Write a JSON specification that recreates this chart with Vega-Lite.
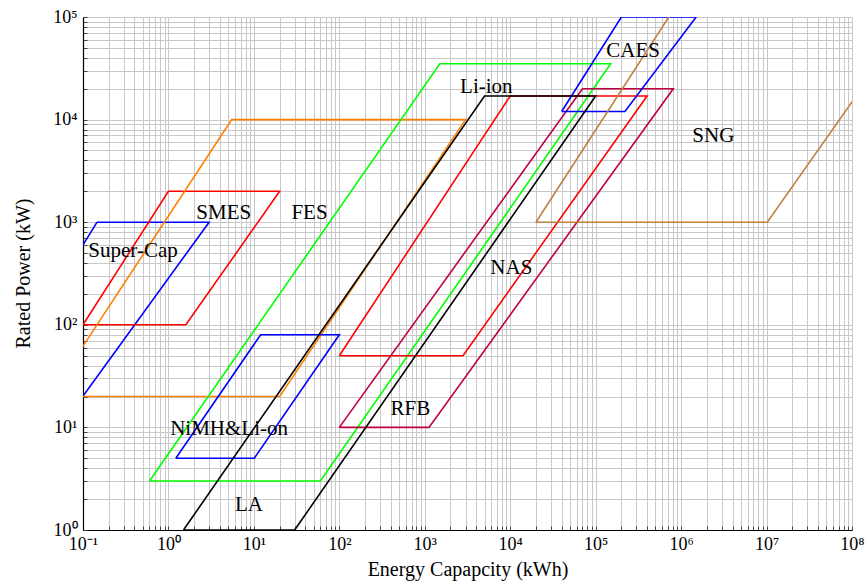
{
  "$schema": "https://vega.github.io/schema/vega-lite/v6.json",
  "width": 769,
  "height": 513,
  "autosize": {"type": "none"},
  "padding": {"left": 83, "top": 17, "right": 15, "bottom": 53},
  "background": "white",
  "config": {
    "font": "Liberation Serif",
    "view": {"stroke": null},
    "axis": {
      "grid": true,
      "gridColor": "#c8c8c8",
      "gridWidth": 1,
      "domainColor": "black",
      "domainWidth": 1.2,
      "tickColor": "#444444",
      "tickSize": -4,
      "labelFont": "Liberation Serif",
      "labelFontSize": 18,
      "labelColor": "black",
      "labelOverlap": false,
      "labelBound": false,
      "labelFlush": false,
      "titleFont": "Liberation Serif",
      "titleFontSize": 20,
      "titleFontWeight": "normal",
      "titleColor": "black"
    }
  },
  "datasets": {
    "shapes": [
      {"shape": "supercap", "i": 0, "e": 0.146, "p": 1000},
      {"shape": "supercap", "i": 1, "e": 2.99, "p": 1000},
      {"shape": "supercap", "i": 2, "e": 0.0542, "p": 10},
      {"shape": "supercap", "i": 3, "e": 0.00479, "p": 10},
      {"shape": "supercap", "i": 4, "e": 0.146, "p": 1000},
      {"shape": "smes", "i": 0, "e": 0.1, "p": 100},
      {"shape": "smes", "i": 1, "e": 1.6, "p": 100},
      {"shape": "smes", "i": 2, "e": 20, "p": 2000},
      {"shape": "smes", "i": 3, "e": 1, "p": 2000},
      {"shape": "smes", "i": 4, "e": 0.1, "p": 100},
      {"shape": "orange", "i": 0, "e": 0.041, "p": 20},
      {"shape": "orange", "i": 1, "e": 20, "p": 20},
      {"shape": "orange", "i": 2, "e": 3000, "p": 10000},
      {"shape": "orange", "i": 3, "e": 5.5, "p": 10000},
      {"shape": "orange", "i": 4, "e": 0.041, "p": 20},
      {"shape": "fes", "i": 0, "e": 0.6, "p": 3},
      {"shape": "fes", "i": 1, "e": 60, "p": 3},
      {"shape": "fes", "i": 2, "e": 150000, "p": 35000},
      {"shape": "fes", "i": 3, "e": 1500, "p": 35000},
      {"shape": "fes", "i": 4, "e": 0.6, "p": 3},
      {"shape": "nimh", "i": 0, "e": 1.22, "p": 5},
      {"shape": "nimh", "i": 1, "e": 10.1, "p": 5},
      {"shape": "nimh", "i": 2, "e": 100, "p": 80},
      {"shape": "nimh", "i": 3, "e": 12, "p": 80},
      {"shape": "nimh", "i": 4, "e": 1.22, "p": 5},
      {"shape": "nas", "i": 0, "e": 100, "p": 50},
      {"shape": "nas", "i": 1, "e": 2800, "p": 50},
      {"shape": "nas", "i": 2, "e": 400000, "p": 17000},
      {"shape": "nas", "i": 3, "e": 10000, "p": 17000},
      {"shape": "nas", "i": 4, "e": 100, "p": 50},
      {"shape": "rfb", "i": 0, "e": 100, "p": 10},
      {"shape": "rfb", "i": 1, "e": 1120, "p": 10},
      {"shape": "rfb", "i": 2, "e": 810000, "p": 20000},
      {"shape": "rfb", "i": 3, "e": 70000, "p": 20000},
      {"shape": "rfb", "i": 4, "e": 100, "p": 10},
      {"shape": "caes", "i": 0, "e": 40000, "p": 12000},
      {"shape": "caes", "i": 1, "e": 220000, "p": 12000},
      {"shape": "caes", "i": 2, "e": 1500000, "p": 100000},
      {"shape": "caes", "i": 3, "e": 200000, "p": 100000},
      {"shape": "caes", "i": 4, "e": 40000, "p": 12000},
      {"shape": "sng", "i": 0, "e": 20000, "p": 1000},
      {"shape": "sng", "i": 1, "e": 10200000, "p": 1000},
      {"shape": "sng", "i": 2, "e": 3500000000, "p": 1000000},
      {"shape": "sng", "i": 3, "e": 4300000, "p": 1000000},
      {"shape": "sng", "i": 4, "e": 20000, "p": 1000},
      {"shape": "la", "i": 0, "e": 1.5, "p": 1},
      {"shape": "la", "i": 1, "e": 30, "p": 1},
      {"shape": "la", "i": 2, "e": 100000, "p": 17000},
      {"shape": "la", "i": 3, "e": 5000, "p": 17000},
      {"shape": "la", "i": 4, "e": 1.5, "p": 1}
    ],
    "labels": [
      {"label": "Super-Cap", "e": 0.385, "p": 524},
      {"label": "SMES", "e": 4.44, "p": 1240},
      {"label": "FES", "e": 44.8, "p": 1240},
      {"label": "NiMH&Li-on", "e": 5.12, "p": 9.57},
      {"label": "LA", "e": 8.77, "p": 1.75},
      {"label": "Li-ion", "e": 5250, "p": 20900},
      {"label": "NAS", "e": 10300, "p": 356},
      {"label": "RFB", "e": 678, "p": 15.1},
      {"label": "CAES", "e": 274000, "p": 46900},
      {"label": "SNG", "e": 2380000, "p": 6920}
    ]
  },
  "layer": [
    {
      "data": {"name": "shapes"},
      "mark": {"type": "line", "clip": true, "strokeWidth": 1.6, "strokeJoin": "miter"},
      "encoding": {
        "x": {
          "field": "e", "type": "quantitative",
          "scale": {"type": "log", "domain": [0.1, 100000000], "nice": false},
          "axis": {
            "title": "Energy Capapcity (kWh)",
            "titleX": 384.5, "titleY": 45, "titleBaseline": "alphabetic", "titleAlign": "center",
            "labelPadding": 9,
            "values": [0.1,0.2,0.3,0.4,0.5,0.6,0.7,0.8,0.9,1,2,3,4,5,6,7,8,9,10,20,30,40,50,60,70,80,90,100,200,300,400,500,600,700,800,900,1000,2000,3000,4000,5000,6000,7000,8000,9000,10000,20000,30000,40000,50000,60000,70000,80000,90000,100000,200000,300000,400000,500000,600000,700000,800000,900000,1000000,2000000,3000000,4000000,5000000,6000000,7000000,8000000,9000000,10000000,20000000,30000000,40000000,50000000,60000000,70000000,80000000,90000000,100000000],
            "labelExpr": "abs(log(datum.value)/LN10 - round(log(datum.value)/LN10)) < 0.001 ? '10' + (round(log(datum.value)/LN10) < 0 ? '⁻' : '') + ['⁰','¹','²','³','⁴','⁵','⁶','⁷','⁸','⁹'][abs(round(log(datum.value)/LN10))] : ''"
          }
        },
        "y": {
          "field": "p", "type": "quantitative",
          "scale": {"type": "log", "domain": [1, 100000], "nice": false},
          "axis": {
            "title": "Rated Power (kW)",
            "titleX": -54, "titleY": 256, "titleBaseline": "alphabetic", "titleAlign": "center", "titleAngle": 270,
            "labelPadding": 10,
            "values": [1,2,3,4,5,6,7,8,9,10,20,30,40,50,60,70,80,90,100,200,300,400,500,600,700,800,900,1000,2000,3000,4000,5000,6000,7000,8000,9000,10000,20000,30000,40000,50000,60000,70000,80000,90000,100000],
            "labelExpr": "abs(log(datum.value)/LN10 - round(log(datum.value)/LN10)) < 0.001 ? '10' + ['⁰','¹','²','³','⁴','⁵','⁶','⁷','⁸','⁹'][abs(round(log(datum.value)/LN10))] : ''"
          }
        },
        "color": {
          "field": "shape", "type": "nominal",
          "scale": {
            "domain": ["supercap","smes","orange","fes","nimh","nas","rfb","caes","sng","la"],
            "range": ["#0000ff","#ff0000","#ff8000","#00ff00","#0000ff","#ff0000","#bf0040","#0000ff","#bf8040","#000000"]
          },
          "legend": null
        },
        "order": {"field": "i", "type": "quantitative"}
      }
    },
    {
      "data": {"name": "labels"},
      "mark": {"type": "text", "fontSize": 21, "font": "Liberation Serif", "baseline": "middle", "align": "center", "color": "black"},
      "encoding": {
        "x": {"field": "e", "type": "quantitative"},
        "y": {"field": "p", "type": "quantitative"},
        "text": {"field": "label"}
      }
    }
  ]
}
